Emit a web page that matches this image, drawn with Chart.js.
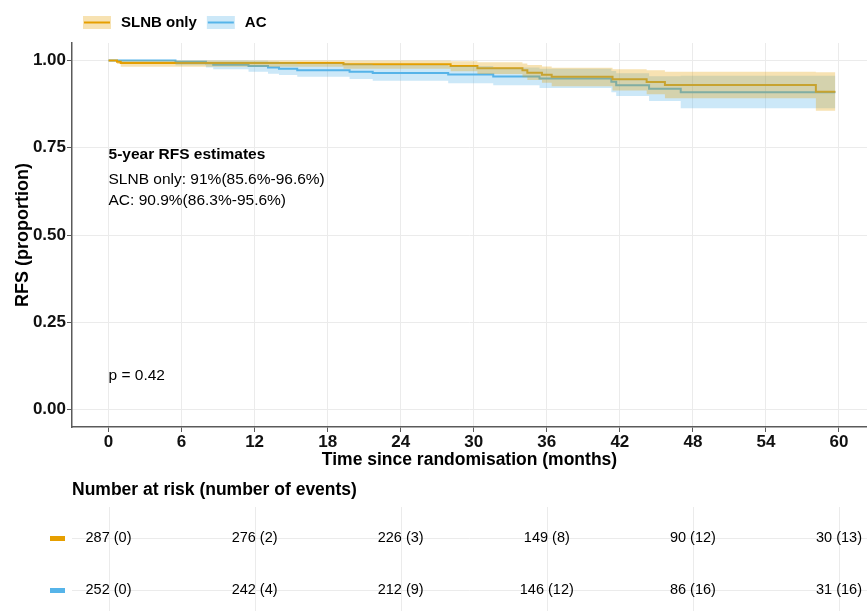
<!DOCTYPE html>
<html>
<head>
<meta charset="utf-8">
<script src="https://cdn.jsdelivr.net/npm/chart.js@4.4.1/dist/chart.umd.min.js"></script>
<style>
  html, body { margin: 0; padding: 0; background: #ffffff; }
  #wrap { width: 867px; height: 611px; position: relative; }
</style>
</head>
<body>
<div id="wrap"><canvas id="c" width="867" height="611"></canvas></div>
<script>
// ---------------- data ----------------
const seriesNames = ['SLNB only', 'AC'];

const timesSLNB = [0, 0.7, 1.0, 19.3, 28.1, 30.3, 34.0, 34.4, 35.6, 36.4, 41.4, 44.2, 45.7, 58.1, 59.7];
const survSLNB  = [1, 0.9965, 0.993, 0.989, 0.984, 0.978, 0.972, 0.965, 0.959, 0.953, 0.946, 0.938, 0.930, 0.910, 0.910];
const lowerSLNB = [1, 0.990, 0.982, 0.976, 0.969, 0.961, 0.952, 0.944, 0.936, 0.926, 0.914, 0.903, 0.892, 0.856, 0.856];
const upperSLNB = [1, 1, 1, 1, 0.998, 0.995, 0.991, 0.987, 0.983, 0.979, 0.975, 0.972, 0.968, 0.966, 0.966];

const timesAC = [0, 5.5, 8.0, 8.6, 11.5, 13.1, 14.0, 15.5, 19.8, 21.7, 27.9, 31.6, 35.4, 41.3, 41.7, 44.4, 47.0, 59.7];
const survAC  = [1, 0.996, 0.992, 0.988, 0.984, 0.980, 0.976, 0.972, 0.968, 0.964, 0.9595, 0.954, 0.948, 0.939, 0.929, 0.919, 0.909, 0.909];
const lowerAC = [1, 0.986, 0.980, 0.975, 0.968, 0.962, 0.958, 0.953, 0.947, 0.942, 0.935, 0.929, 0.921, 0.909, 0.898, 0.884, 0.863, 0.863];
const upperAC = [1, 1, 1, 1, 0.999, 0.997, 0.995, 0.992, 0.990, 0.987, 0.984, 0.980, 0.976, 0.970, 0.963, 0.955, 0.956, 0.956];

const xTicks = [0, 6, 12, 18, 24, 30, 36, 42, 48, 54, 60];
const yTicks = [0, 0.25, 0.5, 0.75, 1];

const riskTimes  = [0, 12, 24, 36, 48, 60];
const riskSLNB   = [287, 276, 226, 149, 90, 30];
const eventsSLNB = [0, 2, 3, 8, 12, 13];
const riskAC     = [252, 242, 212, 146, 86, 31];
const eventsAC   = [0, 4, 9, 12, 16, 16];

const annotationTitle = '5-year RFS estimates';
const annotationLines = ['SLNB only: 91%(85.6%-96.6%)', 'AC: 90.9%(86.3%-95.6%)'];
const pValueText = 'p = 0.42';
const xTitle = 'Time since randomisation (months)';
const yTitle = 'RFS (proportion)';
const tableTitle = 'Number at risk (number of events)';

// ---------------- styles ----------------
const FONT = '"Liberation Sans", Arial, Helvetica, sans-serif';
const ORANGE = '#E69F00';
const BLUE = '#56B4E9';
const ORANGE_FILL = 'rgba(230,159,0,0.3)';
const BLUE_FILL = 'rgba(86,180,233,0.3)';
const GRID = '#EBEBEB';
const AXIS = '#5a5a5a';

const pts = (xs, ys) => xs.map((t, i) => ({ x: t, y: ys[i] }));

const bandBase = { stepped: true, borderWidth: 0, borderColor: 'rgba(0,0,0,0)', pointRadius: 0, order: 1 };
const lineBase = { stepped: true, borderWidth: 2, pointRadius: 0, fill: false, order: 2 };

const datasets = [
  Object.assign({ label: 'SLNB only upper', data: pts(timesSLNB, upperSLNB), fill: false }, bandBase),
  Object.assign({ label: 'SLNB only lower', data: pts(timesSLNB, lowerSLNB), fill: '-1', backgroundColor: ORANGE_FILL }, bandBase),
  Object.assign({ label: 'AC upper', data: pts(timesAC, upperAC), fill: false }, bandBase),
  Object.assign({ label: 'AC lower', data: pts(timesAC, lowerAC), fill: '-1', backgroundColor: BLUE_FILL }, bandBase),
  Object.assign({ label: seriesNames[0], data: pts(timesSLNB, survSLNB), borderColor: ORANGE }, lineBase),
  Object.assign({ label: seriesNames[1], data: pts(timesAC, survAC), borderColor: BLUE }, lineBase)
];

// ---------------- overlay plugin: legend, annotations, risk table ----------------
const overlay = {
  id: 'overlay',
  afterDraw(chart) {
    const { ctx, scales: { x, y }, chartArea } = chart;
    ctx.save();

    // legend
    const legColors = [ORANGE, BLUE];
    const legFills = [ORANGE_FILL, BLUE_FILL];
    ctx.font = 'bold 15px ' + FONT;
    ctx.textBaseline = 'middle';
    ctx.textAlign = 'left';
    let lx = 83;
    const ly = 22.5;
    seriesNames.forEach((name, i) => {
      ctx.fillStyle = legFills[i];
      ctx.fillRect(lx, ly - 6.5, 28, 13);
      ctx.strokeStyle = legColors[i];
      ctx.lineWidth = 2;
      ctx.beginPath();
      ctx.moveTo(lx + 1, ly);
      ctx.lineTo(lx + 27, ly);
      ctx.stroke();
      ctx.fillStyle = '#000';
      ctx.fillText(name, lx + 38, ly);
      lx += 38 + ctx.measureText(name).width + 10;
    });

    // annotations
    const ax = x.getPixelForValue(0);
    const y75 = y.getPixelForValue(0.75);
    ctx.fillStyle = '#000';
    ctx.font = 'bold 15.5px ' + FONT;
    ctx.fillText(annotationTitle, ax, y75 + 7);
    ctx.font = '15.5px ' + FONT;
    ctx.fillText(annotationLines[0], ax, y75 + 32);
    ctx.fillText(annotationLines[1], ax, y75 + 53);
    ctx.fillText(pValueText, ax, y.getPixelForValue(0) - 34);

    // risk table
    const rowY = [538, 590];
    ctx.font = 'bold 17.5px ' + FONT;
    ctx.fillText(tableTitle, chartArea.left, 490);

    ctx.strokeStyle = GRID;
    ctx.lineWidth = 1;
    riskTimes.forEach(t => {
      const px = Math.round(x.getPixelForValue(t)) + 0.5;
      ctx.beginPath();
      ctx.moveTo(px, 507);
      ctx.lineTo(px, 611);
      ctx.stroke();
    });
    rowY.forEach(ry => {
      ctx.beginPath();
      ctx.moveTo(chartArea.left, ry + 0.5);
      ctx.lineTo(chartArea.right, ry + 0.5);
      ctx.stroke();
    });

    const rows = [[riskSLNB, eventsSLNB, ORANGE], [riskAC, eventsAC, BLUE]];
    rows.forEach((r, ri) => {
      ctx.fillStyle = r[2];
      ctx.fillRect(50, rowY[ri] - 2, 15, 5);
      ctx.fillStyle = '#000';
      ctx.font = '14.5px ' + FONT;
      ctx.textAlign = 'center';
      riskTimes.forEach((t, i) => {
        ctx.fillText(r[0][i] + ' (' + r[1][i] + ')', x.getPixelForValue(t), rowY[ri]);
      });
      ctx.textAlign = 'left';
    });

    ctx.restore();
  }
};

// ---------------- chart ----------------
new Chart(document.getElementById('c'), {
  type: 'line',
  data: { datasets },
  options: {
    responsive: false,
    animation: false,
    events: [],
    layout: { padding: { top: 43, right: 0, bottom: 134, left: 0 } },
    plugins: {
      legend: { display: false },
      tooltip: { enabled: false },
      filler: { propagate: false }
    },
    scales: {
      x: {
        type: 'linear',
        min: -3,
        max: 62.3,
        afterBuildTicks: s => { s.ticks = xTicks.map(v => ({ value: v })); },
        afterFit: s => { s.height = 50; },
        ticks: {
          font: { family: FONT, size: 17, weight: 'bold' },
          color: '#111',
          padding: 0,
          maxRotation: 0,
          autoSkip: false,
          callback: v => String(v)
        },
        grid: { color: GRID, lineWidth: 1, tickColor: AXIS, tickLength: 5, drawTicks: true },
        border: { display: true, color: AXIS, width: 1.5 },
        title: {
          display: true,
          text: xTitle,
          color: '#000',
          font: { family: FONT, size: 17.5, weight: 'bold' },
          padding: { top: 0, bottom: 6 }
        }
      },
      y: {
        type: 'linear',
        min: -0.05,
        max: 1.05,
        afterBuildTicks: s => { s.ticks = yTicks.map(v => ({ value: v })); },
        afterFit: s => { s.width = 72; },
        ticks: {
          font: { family: FONT, size: 17, weight: 'bold' },
          color: '#111',
          padding: 1,
          callback: v => Number(v).toFixed(2)
        },
        grid: { color: GRID, lineWidth: 1, tickColor: AXIS, tickLength: 5, drawTicks: true },
        border: { display: true, color: AXIS, width: 1.5 },
        title: {
          display: true,
          text: yTitle,
          color: '#000',
          font: { family: FONT, size: 18, weight: 'bold' },
          padding: { top: 12, bottom: 0 }
        }
      }
    }
  },
  plugins: [overlay]
});
</script>
</body>
</html>
